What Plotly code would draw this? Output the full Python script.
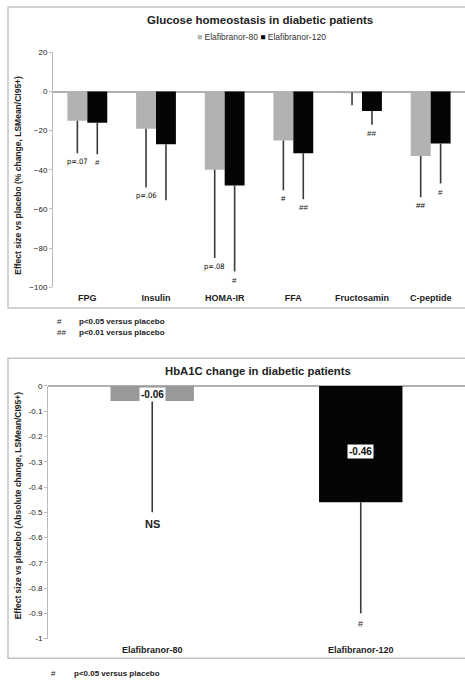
import plotly.graph_objects as go

# ---------------- data ----------------
categories = ["FPG", "Insulin", "HOMA-IR", "FFA", "Fructosamin", "C-peptide"]
series_names = ["Elafibranor-80", "Elafibranor-120"]
e80_mean = [-15, -19, -40, -25, -0.5, -33]
e80_lower = [-31.5, -49, -85, -50.5, -7, -54]
e120_mean = [-16, -27, -48, -31.5, -10, -26.5]
e120_lower = [-32, -55.5, -92, -55, -17, -47]
e80_sig = ["p=.07", "p=.06", "p=.08", "#", "", "##"]
e120_sig = ["#", "", "#", "##", "##", "#"]
y1_ticks = [20, 0, -20, -40, -60, -80, -100]

hba_groups = ["Elafibranor-80", "Elafibranor-120"]
hba_mean = [-0.06, -0.46]
hba_lower = [-0.50, -0.90]
hba_sig = ["NS", "#"]
y2_ticks = [0, -0.1, -0.2, -0.3, -0.4, -0.5, -0.6, -0.7, -0.8, -0.9, -1]
y2_ticktext = ["0", "-0.1", "-0.2", "-0.3", "-0.4", "-0.5", "-0.6", "-0.7", "-0.8", "-0.9", "-1"]

footnotes_top = [("#", "p<0.05 versus placebo"), ("##", "p<0.01 versus placebo")]
footnotes_bottom = [("#", "p<0.05 versus placebo")]

# ---------------- styles ----------------
W, H = 465, 689
FONT = "Liberation Sans, Arial, sans-serif"
GREY1 = "#b2b2b2"
GREY2 = "#999999"
BLACK = "#050505"
ERR = "#3a3a3a"
TXT = "#222222"
BW = 0.29


def py(pix):
    return 1 - pix / H


def px(pix):
    return pix / W


xs = list(range(len(categories)))
fig = go.Figure()

fig.add_trace(go.Bar(
    x=xs, y=e80_mean, name=series_names[0], marker=dict(color=GREY1, line=dict(width=0)),
    width=BW, offset=-BW, xaxis="x", yaxis="y", showlegend=False,
    error_y=dict(type="data", symmetric=False, array=[0] * len(xs),
                 arrayminus=[m - l for m, l in zip(e80_mean, e80_lower)],
                 color=ERR, thickness=1.6, width=0)))
fig.add_trace(go.Bar(
    x=xs, y=e120_mean, name=series_names[1], marker=dict(color=BLACK, line=dict(width=0)),
    width=BW, offset=0, xaxis="x", yaxis="y", showlegend=False,
    error_y=dict(type="data", symmetric=False, array=[0] * len(xs),
                 arrayminus=[m - l for m, l in zip(e120_mean, e120_lower)],
                 color=ERR, thickness=1.6, width=0)))

xs2 = list(range(len(hba_groups)))
fig.add_trace(go.Bar(
    x=xs2, y=hba_mean, marker=dict(color=[GREY2, BLACK], line=dict(width=0)),
    width=0.4, offset=-0.2, xaxis="x2", yaxis="y2", showlegend=False,
    error_y=dict(type="data", symmetric=False, array=[0] * len(xs2),
                 arrayminus=[m - l for m, l in zip(hba_mean, hba_lower)],
                 color=ERR, thickness=1.6, width=0)))

ann = []
# significance labels top
for i in xs:
    if e80_sig[i]:
        ann.append(dict(x=i - BW / 2, y=e80_lower[i], xref="x", yref="y", text=e80_sig[i],
                        showarrow=False, xanchor="center", yanchor="top", yshift=-2,
                        font=dict(size=7.5 if e80_sig[i].startswith("p") else 8, color="#000000",
                                  family="DejaVu Sans Condensed, DejaVu Sans, sans-serif" if e80_sig[i].startswith("p") else FONT)))
    if e120_sig[i]:
        ann.append(dict(x=i + BW / 2, y=e120_lower[i], xref="x", yref="y", text=e120_sig[i],
                        showarrow=False, xanchor="center", yanchor="top", yshift=-2,
                        font=dict(size=8, color="#222222", family=FONT)))
# significance labels bottom
for i in xs2:
    ann.append(dict(x=i, y=hba_lower[i], xref="x2", yref="y2",
                    text="<b>%s</b>" % hba_sig[i] if hba_sig[i] == "NS" else hba_sig[i],
                    showarrow=False, xanchor="center", yanchor="top", yshift=-4,
                    font=dict(size=11 if hba_sig[i] == "NS" else 9, color=TXT, family=FONT)))
    ann.append(dict(x=i, y=hba_mean[i] * 0.56, xref="x2", yref="y2",
                    text="<b>%.2f</b>" % hba_mean[i], showarrow=False, bgcolor="white",
                    xanchor="center", yanchor="middle",
                    borderpad=1, font=dict(size=10, color="#111111", family=FONT)))


def pann(x, y, text, size, xanchor="center", angle=0, color=TXT):
    return dict(x=px(x), y=py(y), xref="paper", yref="paper", text=text, showarrow=False,
                xanchor=xanchor, yanchor="middle", textangle=angle,
                font=dict(size=size, color=color, family=FONT))


# titles
ann.append(pann(260, 16, "<b>Glucose homeostasis in diabetic patients</b>", 11.5))
ann.append(pann(258, 372, "<b>HbA1C change in diabetic patients</b>", 11.3))
# legend (manual)
ann.append(pann(261, 33, "<span style='color:%s'>■</span> %s <span style='color:%s'>■</span> %s"
                % (GREY1, series_names[0], BLACK, series_names[1]), 8.5, color="#333333"))
# y-axis titles
ann.append(pann(18, 174, "<b>Effect size vs placebo (% change, LSMean/CI95+)</b>", 8.5, angle=-90))
ann.append(pann(18, 508, "<b>Effect size vs placebo (Absolute change, LSMean/CI95+)</b>", 8.5, angle=-90))
# footnotes
for k, (sym, txt) in enumerate(footnotes_top):
    ann.append(pann(55, 322 + 11 * k, sym, 8, xanchor="left"))
    ann.append(pann(77, 322 + 11 * k, "<b>%s</b>" % txt, 8, xanchor="left"))
for k, (sym, txt) in enumerate(footnotes_bottom):
    ann.append(pann(49, 678 + 11 * k, sym, 8, xanchor="left"))
    ann.append(pann(72, 678 + 11 * k, "<b>%s</b>" % txt, 8, xanchor="left"))

shapes = [
    dict(type="rect", xref="paper", yref="paper", x0=px(8), x1=1.01, y0=py(308), y1=py(3),
         line=dict(color="#c4c4c4", width=1.5)),
    dict(type="rect", xref="paper", yref="paper", x0=px(8), x1=1.01, y0=py(663), y1=py(359),
         line=dict(color="#c4c4c4", width=1.5)),
]

axis_common = dict(showgrid=False, ticks="outside", ticklen=3, tickcolor="#bbbbbb",
                   showline=True, linecolor="#bbbbbb", linewidth=1,
                   zeroline=True, zerolinecolor="#b0b0b0", zerolinewidth=1.5,
                   tickfont=dict(size=8, color=TXT, family=FONT))

fig.update_layout(
    width=W, height=H, margin=dict(l=0, r=0, t=0, b=0),
    paper_bgcolor="white", plot_bgcolor="white", barmode="overlay",
    font=dict(family=FONT, color=TXT),
    xaxis=dict(domain=[px(53), 1.0], range=[-0.5, len(categories) - 0.5], anchor="y",
               tickvals=xs, ticktext=["<b>%s</b>" % c for c in categories],
               showgrid=False, showline=False, zeroline=False, ticks="", ticklabelstandoff=4,
               tickfont=dict(size=9, color=TXT, family=FONT)),
    yaxis=dict(domain=[py(287), py(49)], range=[-100, 20], anchor="x",
               tickvals=y1_ticks, **axis_common),
    xaxis2=dict(domain=[px(48), 1.0], range=[-0.5, len(hba_groups) - 0.5], anchor="y2",
                tickvals=xs2, ticktext=["<b>%s</b>" % g for g in hba_groups],
                showgrid=False, showline=False, zeroline=False, ticks="", ticklabelstandoff=4,
                tickfont=dict(size=9, color=TXT, family=FONT)),
    yaxis2=dict(domain=[py(643), py(387)], range=[-1, 0], anchor="x2",
                tickvals=y2_ticks, ticktext=y2_ticktext, **axis_common),
    annotations=ann, shapes=shapes,
)

fig.write_html("out.html")
